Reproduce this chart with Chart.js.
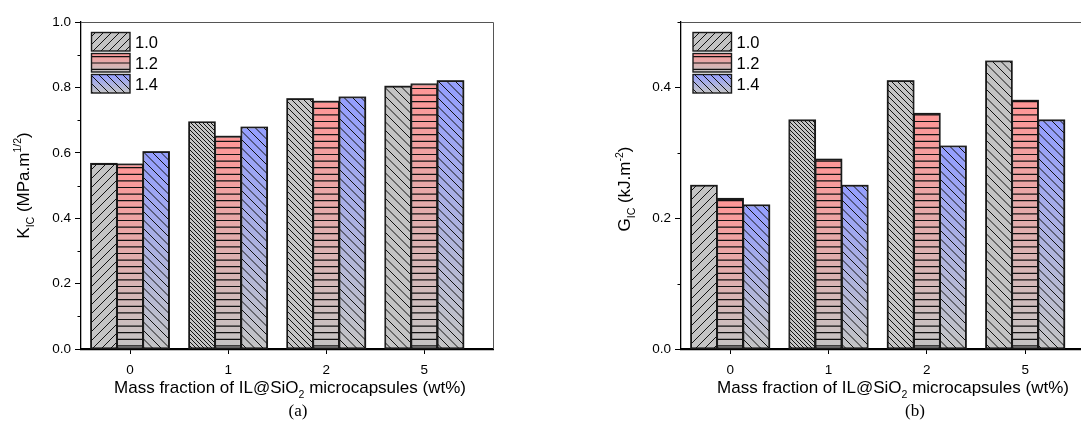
<!DOCTYPE html>
<html>
<head>
<meta charset="utf-8">
<script src="https://cdn.jsdelivr.net/npm/chart.js"></script>
<style>
  html, body { margin: 0; padding: 0; background: #fff; overflow: hidden; width: 1081px; height: 421px; }
  #wrapA { position: absolute; left: 0; top: 0; width: 540px; height: 421px; }
  #wrapB { position: absolute; left: 540px; top: 0; width: 560px; height: 421px; }
</style>
</head>
<body>
<div id="wrapA"><canvas id="chartA" width="540" height="421"></canvas></div>
<div id="wrapB"><canvas id="chartB" width="560" height="421"></canvas></div>
<script>
// data
const groups = ['0', '1', '2', '5'];
const seriesNames = ['1.0', '1.2', '1.4'];
const kic10 = [0.567, 0.694, 0.765, 0.803];
const kic12 = [0.565, 0.650, 0.757, 0.810];
const kic14 = [0.603, 0.678, 0.770, 0.820];
const gic10 = [0.250, 0.350, 0.410, 0.440];
const gic12 = [0.230, 0.290, 0.360, 0.380];
const gic14 = [0.220, 0.250, 0.310, 0.350];

const FONT = "'Liberation Sans', Arial, sans-serif";
const grey = 'rgb(196,196,196)';
const topColors = [grey, 'rgb(255,150,150)', 'rgb(148,158,255)'];

// hatch style for each series (grey series changes per group)
const greyHatch = [{ dir: '/', gap: 9 }, { dir: '\\', gap: 4 }, { dir: '\\', gap: 6 }, { dir: '\\', gap: 8.5 }];
const redHatch = { dir: '-', gap: 6.6 };
const blueHatch = { dir: '\\', gap: 8.5 };

function hatchFor(ds, i) {
    if (ds === 0) return greyHatch[i];
    if (ds === 1) return redHatch;
    return blueHatch;
}

function barFill(topColor) {
    return function (ctx) {
        const y = ctx.chart.scales.y;
        if (!y || ctx.type !== 'data') return topColor;
        const yTop = y.getPixelForValue(ctx.raw.y);
        const yBase = y.getPixelForValue(0);
        if (!isFinite(yTop) || !isFinite(yBase) || yTop === yBase) return topColor;
        const g = ctx.chart.ctx.createLinearGradient(0, yTop, 0, yBase);
        g.addColorStop(0, topColor);
        g.addColorStop(1, grey);
        return g;
    };
}

function drawHatch(c, l, t, r, b, spec) {
    c.save();
    c.beginPath();
    c.rect(l, t, r - l, b - t);
    c.clip();
    c.strokeStyle = '#111';
    c.lineWidth = 1;
    c.beginPath();
    if (spec.dir === '-') {
        for (let y = b - 2.6; y > t + 1; y -= spec.gap) {
            c.moveTo(l, y);
            c.lineTo(r, y);
        }
        c.lineWidth = 1.2;
    } else if (spec.dir === '/') {
        const start = Math.floor((l + t) / spec.gap) * spec.gap;
        for (let k = start; k < r + b + spec.gap; k += spec.gap) {
            c.moveTo(k - b, b);
            c.lineTo(k - t, t);
        }
    } else {
        const start = Math.floor((l - b) / spec.gap) * spec.gap;
        for (let k = start; k < r - t + spec.gap; k += spec.gap) {
            c.moveTo(k + t, t);
            c.lineTo(k + b, b);
        }
    }
    c.stroke();
    c.restore();
}

function drawRich(c, parts, size, cx, cy, rotate) {
    c.save();
    c.translate(cx, cy);
    if (rotate) c.rotate(-Math.PI / 2);
    const small = size * 0.62;
    let total = 0;
    parts.forEach(p => {
        c.font = (p[1] ? small : size) + 'px ' + FONT;
        total += c.measureText(p[0]).width;
    });
    let x = -total / 2;
    c.fillStyle = '#000';
    c.textAlign = 'left';
    c.textBaseline = 'alphabetic';
    parts.forEach(p => {
        c.font = (p[1] ? small : size) + 'px ' + FONT;
        const dy = p[1] === 'sub' ? size * 0.3 : (p[1] === 'sup' ? -size * 0.42 : 0);
        c.fillText(p[0], x, dy);
        x += c.measureText(p[0]).width;
    });
    c.restore();
}

function makePlugin(opt) {
    return {
        id: 'decor',
        beforeDatasetsDraw(chart) {
            const c = chart.ctx, a = chart.chartArea;
            c.save();
            c.strokeStyle = '#555';
            c.lineWidth = 1;
            c.beginPath();
            c.moveTo(a.left, a.top + 0.5);
            c.lineTo(a.right + 0.5, a.top + 0.5);
            c.lineTo(a.right + 0.5, a.bottom);
            c.stroke();
            c.restore();
        },
        afterDatasetsDraw(chart) {
            const c = chart.ctx;
            chart.data.datasets.forEach((ds, di) => {
                chart.getDatasetMeta(di).data.forEach((bar, i) => {
                    const p = bar.getProps(['x', 'y', 'base', 'width'], true);
                    const l = p.x - p.width / 2, r = p.x + p.width / 2;
                    drawHatch(c, l, p.y, r, p.base, hatchFor(di, i));
                    c.save();
                    c.strokeStyle = '#1a1a1a';
                    c.lineWidth = 1.3;
                    c.strokeRect(l, p.y, p.width, p.base - p.y);
                    c.restore();
                });
            });
        },
        afterDraw(chart) {
            const c = chart.ctx, a = chart.chartArea;
            const ys = chart.scales.y;
            // minor ticks
            c.save();
            c.strokeStyle = '#000';
            c.lineWidth = 1;
            ys.ticks.forEach((t, i) => {
                if (i % 2 === 1) {
                    const py = Math.round(ys.getPixelForValue(t.value)) + 0.5;
                    c.beginPath();
                    c.moveTo(a.left - 3.5, py);
                    c.lineTo(a.left, py);
                    c.stroke();
                }
            });
            c.restore();
            // legend
            const boxW = 38.5, boxH = 18.5;
            for (let s = 0; s < 3; s++) {
                const bx = opt.legendX, by = 32.5 + s * 21;
                const g = c.createLinearGradient(0, by, 0, by + boxH);
                g.addColorStop(0, topColors[s]);
                g.addColorStop(1, grey);
                c.fillStyle = g;
                c.fillRect(bx, by, boxW, boxH);
                const spec = s === 0 ? { dir: '/', gap: 8 } : (s === 1 ? { dir: '-', gap: 6.4 } : { dir: '\\', gap: 8 });
                drawHatch(c, bx, by, bx + boxW, by + boxH, spec);
                c.strokeStyle = '#1a1a1a';
                c.lineWidth = 1.4;
                c.strokeRect(bx, by, boxW, boxH);
                c.fillStyle = '#000';
                c.font = '16.5px ' + FONT;
                c.textAlign = 'left';
                c.textBaseline = 'alphabetic';
                c.fillText(seriesNames[s], bx + boxW + 5, by + boxH / 2 + 6);
            }
            // axis titles
            drawRich(c, [['Mass fraction of IL@SiO', ''], ['2', 'sub'], [' microcapsules (wt%)', '']], 17, opt.xTitleX, 393, false);
            drawRich(c, opt.yTitle, 17, opt.yTitleX, opt.yTitleY, true);
            c.save();
            c.fillStyle = '#000';
            c.font = "17px 'Liberation Serif', 'Times New Roman', serif";
            c.textAlign = 'center';
            c.textBaseline = 'alphabetic';
            c.fillText(opt.caption, opt.captionX, 416);
            c.restore();
        }
    };
}

function buildChart(canvasId, values, yMax, layout, opt) {
    const datasets = values.map((vals, s) => ({
        label: seriesNames[s],
        data: vals.map((v, i) => ({ x: i, y: v })),
        backgroundColor: barFill(topColors[s]),
        borderColor: '#1a1a1a',
        borderWidth: 1.3,
        borderSkipped: false,
        categoryPercentage: 0.8,
        barPercentage: 1.0
    }));
    return new Chart(document.getElementById(canvasId), {
        type: 'bar',
        data: { datasets: datasets },
        options: {
            responsive: false,
            animation: false,
            layout: { padding: { left: 0, top: 22, right: layout.right, bottom: 0 } },
            plugins: { legend: { display: false }, tooltip: { enabled: false } },
            scales: {
                x: {
                    type: 'linear',
                    min: -0.5,
                    max: 3.7,
                    offset: false,
                    z: 1,
                    afterFit: s => { s.height = 72; },
                    afterBuildTicks: s => { s.ticks = groups.map((g, i) => ({ value: i })); },
                    ticks: {
                        autoSkip: false,
                        maxRotation: 0,
                        padding: 8,
                        color: '#000',
                        font: { family: FONT, size: 13.5 },
                        callback: v => groups[v]
                    },
                    grid: { drawOnChartArea: false, drawTicks: true, tickLength: 5, tickColor: '#000', offset: false },
                    border: { display: true, color: '#000', width: 2.2 }
                },
                y: {
                    min: 0,
                    max: yMax,
                    z: 1,
                    afterFit: s => { s.width = layout.yWidth; },
                    ticks: {
                        stepSize: 0.1,
                        autoSkip: false,
                        padding: 4,
                        color: '#000',
                        font: { family: FONT, size: 13.5 },
                        callback: (v, i) => (i % 2 === 0 ? v.toFixed(1) : '')
                    },
                    grid: {
                        drawOnChartArea: false,
                        drawTicks: true,
                        tickLength: 6,
                        tickColor: ctx => (ctx.index % 2 ? 'rgba(0,0,0,0)' : '#000')
                    },
                    border: { display: true, color: '#000', width: 1.3 }
                }
            }
        },
        plugins: [makePlugin(opt)]
    });
}

buildChart('chartA', [kic10, kic12, kic14], 1.0, { right: 47, yWidth: 81 }, {
    legendX: 91.5,
    xTitleX: 290,
    yTitleX: 28.5,
    yTitleY: 185.5,
    yTitle: [['K', ''], ['IC', 'sub'], [' (MPa.m', ''], ['1/2', 'sup'], [')', '']],
    caption: '(a)',
    captionX: 298
});

buildChart('chartB', [gic10, gic12, gic14], 0.5, { right: 6, yWidth: 141 }, {
    legendX: 153,
    xTitleX: 353,
    yTitleX: 90,
    yTitleY: 189,
    yTitle: [['G', ''], ['IC', 'sub'], [' (kJ.m', ''], ['-2', 'sup'], [')', '']],
    caption: '(b)',
    captionX: 375
});
</script>
</body>
</html>
